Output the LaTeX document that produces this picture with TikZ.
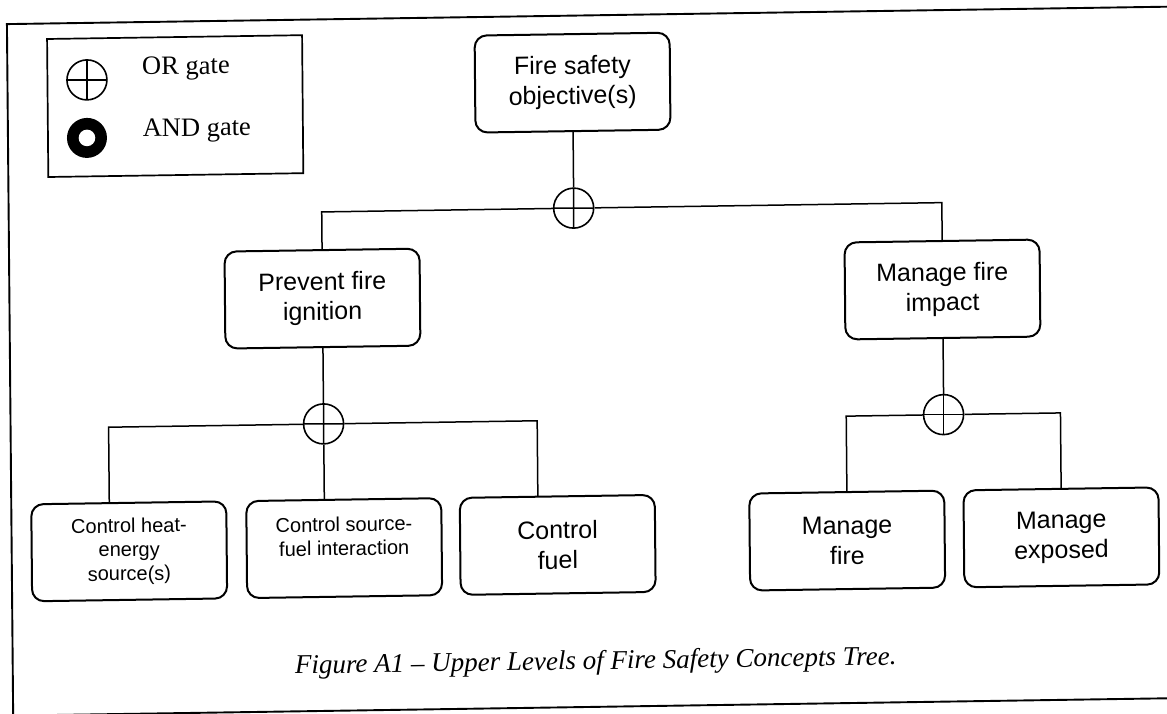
\documentclass[tikz,border=0pt]{standalone}
\usepackage{fontspec}
\setmainfont{Liberation Serif}
\newfontfamily\arialfam{Liberation Sans}
\begin{document}
\begin{tikzpicture}[x=1pt,y=-1pt,
  frame/.style={line width=1.9pt},
  concept/.style={draw, line width=2pt, rounded corners=12pt,
    minimum width=195pt, minimum height=97pt, inner sep=0pt, align=center,
    font=\arialfam\fontsize{25}{30}\selectfont},
  smallconcept/.style={concept, font=\arialfam\fontsize{20}{24}\selectfont},
  orgate/.style={circle, draw, line width=1.6pt, minimum size=40pt, inner sep=0pt,
    path picture={\draw[line width=1.6pt]
      (path picture bounding box.north) -- (path picture bounding box.south)
      (path picture bounding box.west) -- (path picture bounding box.east);}},
  andgate/.style={circle, fill=black, minimum size=40pt, inner sep=0pt,
    path picture={\fill[white] (path picture bounding box.center) circle (8.3pt);}},
  link/.style={line width=1.5pt},
  legendtext/.style={font=\fontsize{26.5}{30}\selectfont, inner sep=0pt, anchor=base west}
]
\useasboundingbox (0,0) rectangle (1167,713);
\clip (0,0) rectangle (1167,713);
\fill[white] (0,0) rectangle (1167,713);

% the whole sheet sits slightly askew on the page
\begin{scope}[cm={1,0.015,-0.009,1,(-3.204pt,-8.745pt)}, transform shape]

  % outer frame (right side runs off the sheet)
  \draw[frame] (10,15.5) rectangle (1200,707);

  % legend
  \node[draw, line width=1.7pt, minimum width=255pt, minimum height=138pt, inner sep=0pt]
    (legendbox) at (177.5,100) {};
  \node[orgate] (orsym) at (89.5,72.5) {};
  \node[andgate] (andsym) at (89,130.5) {};
  \node[legendtext] (ortext) at (144.6,68.4) {OR gate};
  \node[legendtext] (andtext) at (144.6,130.4) {AND gate};

  % tree nodes
  \node[concept] (fire) at (575,82.5) {Fire safety\\objective(s)};
  \node[orgate] (g1) at (575,208) {};
  \node[concept] (prevent) at (323,294.7) {Prevent fire\\ignition};
  \node[concept] (impact) at (943,294.9) {Manage fire\\impact};
  \node[orgate] (g2) at (323,420) {};
  \node[orgate] (g3) at (943,420) {};
  \node[smallconcept] (heat) at (127.5,544.5) {Control heat-\\energy\\source(s)};
  \node[smallconcept] (src) at (342.5,544.5) {Control source-\\fuel interaction\\\mbox{}};
  \node[concept] (fuel) at (556,544.5) {Control\\fuel};
  \node[concept] (mfire) at (845.5,544.5) {Manage\\fire};
  \node[concept] (mexp) at (1059.7,544.5) {Manage\\exposed};

  % connectors
  \draw[link] (fire.south) -- (g1.north);
  \draw[link] (g1.west) -| (prevent.north);
  \draw[link] (g1.east) -| (impact.north);

  \draw[link] (prevent.south) -- (g2.north);
  \draw[link] (g2.west) -| ([xshift=-19.5pt]heat.north);
  \draw[link] (g2.south) -- (g2.south |- src.north);
  \draw[link] (g2.east) -| ([xshift=-19.5pt]fuel.north);

  \draw[link] (impact.south) -- (g3.north);
  \draw[link] (g3.west) -| (mfire.north);
  \draw[link] (g3.east) -| (mexp.north);

  % caption
  \node[font=\itshape\fontsize{27}{30}\selectfont, anchor=base, inner sep=0pt]
    (caption) at (593,669.5) {Figure A1 – Upper Levels of Fire Safety Concepts Tree.};
\end{scope}
\end{tikzpicture}
\end{document}
